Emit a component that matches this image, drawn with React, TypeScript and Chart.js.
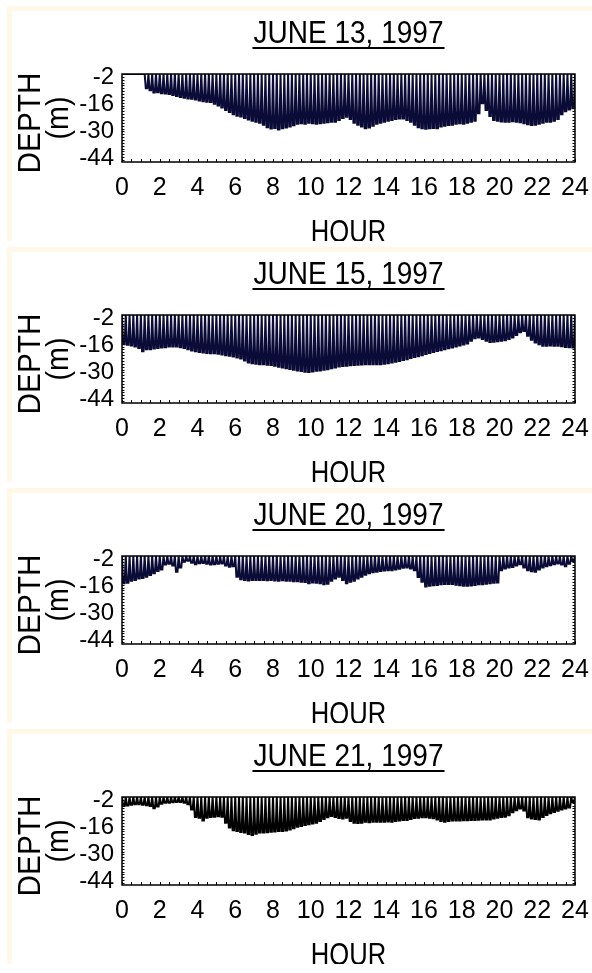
import React, { useEffect, useRef } from 'react';
import { Chart, registerables } from 'chart.js';

Chart.register(...registerables);

// ---------- data ----------
const HOUR_TICKS = [0, 2, 4, 6, 8, 10, 12, 14, 16, 18, 20, 22, 24];
const DEPTH_TICKS = [-2, -16, -30, -44];
const DIVE_STEP = 0.2; // hours per dive slot (dive centres at 0.1, 0.3, ... 23.9)

const PANEL_TITLES = ['JUNE 13, 1997', 'JUNE 15, 1997', 'JUNE 20, 1997', 'JUNE 21, 1997'];

// max depth (m) of each dive slot; 0 = animal at surface (no dive)
const JUNE13 = [
  0, 0, 0, 0, 0, 0, -7.5, -8.5, -9.7, -9.5,
  -10, -10.2, -10.5, -11, -11.5, -12, -12.4, -12.8, -13, -13.3,
  -13.8, -14.2, -14.5, -14.6, -15.5, -16.5, -17.5, -18.8, -19.8, -21,
  -21.8, -22.2, -23, -23.8, -24.5, -25, -25.5, -26.5, -27.8, -28.5,
  -28.2, -29, -28.4, -28, -27.5, -26.8, -26, -25.8, -26, -25.5,
  -25.8, -26, -25.8, -25.5, -25.2, -25, -24.9, -24, -23, -22.3,
  -23.5, -25.5, -26.5, -27.5, -28.4, -28, -27, -26, -25.5, -25,
  -24.5, -24, -23.5, -23.2, -23.2, -24, -25, -26.5, -27.8, -28.4,
  -28.6, -28.4, -28.2, -28.4, -27.5, -27, -26.7, -26.5, -26, -25.8,
  -26, -25.5, -25, -24.5, -20.5, -15.3, -18.8, -22, -24, -24.5,
  -24.8, -24.9, -25, -24.7, -24.9, -25.2, -25.8, -26.3, -26.7, -26.5,
  -26, -25.5, -25, -25, -24.5, -23.5, -21, -19.5, -18.5, -17.9,
];

const JUNE15 = [
  -15.3, -15.5, -16, -16.5, -17.2, -19, -17.9, -17.9, -17.5, -17.2,
  -17, -16.8, -16.5, -16.5, -16.5, -16.8, -17.2, -17.9, -18.5, -19,
  -19.3, -19.6, -19.8, -20, -20, -20.3, -20.6, -21, -21.3, -21.7,
  -22.2, -22.8, -23.8, -24.8, -25.2, -25.5, -25.7, -25.8, -26, -26.2,
  -26.5, -27, -27.4, -27.8, -28.2, -28.6, -29, -29.3, -29.7, -29.8,
  -29.5, -29.2, -29, -28.6, -28.3, -27.9, -27.4, -26.9, -26.7, -26.5,
  -26.3, -26.2, -26, -25.9, -25.8, -25.7, -25.7, -25.7, -25.7, -25.5,
  -25.2, -24.8, -24.4, -24, -23.5, -23.1, -22.5, -22, -21.5, -21,
  -20.4, -19.8, -19.3, -18.8, -18.4, -17.9, -17.4, -17, -16.5, -16,
  -15.4, -14.9, -13.5, -12.2, -11.8, -12.6, -13.5, -14.1, -14, -13.7,
  -13.5, -13.2, -12.5, -11.8, -10.5, -9, -8.3, -10.9, -13, -14.4,
  -15.3, -16.1, -16.1, -16, -16.1, -16.1, -16.4, -16.7, -16.9, -17,
];

const JUNE20 = [
  -14.3, -14, -13, -12.5, -11.8, -11.5, -10.8, -9.9, -9, -7.8,
  -7, -4.5, -4, -5, -8.2, -6, -3, -2.5, -3.5, -4.3,
  -3.8, -3.6, -4, -4.5, -4.3, -4, -3.9, -5, -5.6, -5.3,
  -10.8, -12.2, -12.5, -12.8, -12.5, -12.6, -12.5, -12.5, -12.7, -12.5,
  -12.8, -12.9, -12.7, -12.9, -13, -13.2, -13.2, -13.4, -13.6, -14.3,
  -13.8, -14, -14.2, -14.8, -14.5, -12.9, -11.7, -10.8, -12.5, -14.2,
  -13.5, -12.9, -11.8, -10.8, -9.8, -9, -8.5, -8.2, -7.8, -7.6,
  -7.5, -7.4, -7, -6.6, -6.2, -6, -6.5, -7.4, -11, -13.4,
  -16, -15.5, -15.3, -15.1, -14.8, -14.6, -14.6, -14.6, -15, -15.3,
  -15.6, -15.6, -15.4, -15.1, -14.8, -14.8, -14.5, -14.2, -14, -13.9,
  -7.4, -6.5, -6, -5.7, -5, -4.3, -6, -7.4, -8, -8.2,
  -7, -6, -5.3, -4.8, -4.3, -3.9, -4.5, -5.3, -4, -2.6,
];

const JUNE21 = [
  -4.7, -4.5, -4, -3.8, -3.8, -4, -4.3, -4.7, -5.9, -5,
  -3.5, -3, -3, -2.8, -2.6, -2.6, -3, -3.8, -6.5, -10.5,
  -10.8, -12.3, -10.8, -10.5, -10.3, -10, -10.3, -13.5, -16, -17.4,
  -17.8, -18.3, -18.6, -19.3, -19.9, -19.2, -18.6, -18.6, -18.4, -18.2,
  -18, -17.8, -17.8, -17.5, -17, -16.3, -15.6, -15.2, -14.6, -14.2,
  -13.8, -13.4, -12.5, -11.5, -10.6, -9.9, -10.5, -11, -11.2, -10.8,
  -12.5, -13.4, -13.6, -13.4, -13, -13.2, -13, -12.9, -13, -12.9,
  -12.8, -12.9, -12.6, -12.3, -12, -12, -11.5, -11, -10.8, -10.6,
  -10.6, -10.8, -11.1, -11.8, -12.5, -12.9, -12.6, -12.3, -12.3, -12.3,
  -12.2, -12.1, -12, -12, -11.9, -11.8, -11.7, -11.7, -11.2, -10.8,
  -10.5, -10.3, -9.5, -8, -6.9, -6, -7, -10.6, -11.2, -11.5,
  -11.7, -10.5, -9.4, -8.5, -7.8, -7.2, -6.5, -6, -5.5, -2.6,
];

const PANEL_DATA = [JUNE13, JUNE15, JUNE20, JUNE21];
const PANEL_COLORS = ['#0b0b38', '#0b0b38', '#0b0b38', '#000000'];

// ---------- layout ----------
const W = 592;
const PANEL_H = 241;
const FONT = '"Liberation Sans", Arial, Helvetica, sans-serif';

function diveTrace(depths: number[]) {
  const pts: { x: number; y: number }[] = [];
  depths.forEach((d, i) => {
    const t0 = i * DIVE_STEP;
    const t1 = t0 + DIVE_STEP;
    const c = t0 + DIVE_STEP / 2;
    if (d >= 0) {
      pts.push({ x: t0, y: 0 }, { x: t1, y: 0 });
      return;
    }
    pts.push({ x: t0, y: 0 }, { x: c - 0.04, y: d }, { x: c + 0.04, y: d }, { x: t1, y: 0 });
  });
  return pts;
}

const decorPlugin = {
  id: 'decor',
  afterDraw(chart: any, _args: any, opts: any) {
    const { ctx, chartArea } = chart;
    const { left, right, top, bottom } = chartArea;
    const xs = chart.scales.x;
    const ys = chart.scales.y;
    ctx.save();
    ctx.fillStyle = '#000';
    ctx.strokeStyle = '#000';
    // box
    ctx.lineWidth = 1.5;
    ctx.strokeRect(left, top, right - left, bottom - top);
    // minor ticks
    ctx.lineWidth = 1;
    ctx.beginPath();
    for (let h = 0; h <= 24; h += 0.5) {
      const px = Math.round(xs.getPixelForValue(h)) + 0.5;
      ctx.moveTo(px, bottom);
      ctx.lineTo(px, bottom - 3);
    }
    for (let v = 0; v >= -46; v -= 1.5) {
      const py = Math.round(ys.getPixelForValue(v)) + 0.5;
      ctx.moveTo(left, py);
      ctx.lineTo(left + 2.5, py);
      ctx.moveTo(right, py);
      ctx.lineTo(right - 2.5, py);
    }
    ctx.stroke();

    const cx = (left + right) / 2;
    // title (condensed) + underline
    ctx.font = `32px ${FONT}`;
    ctx.textAlign = 'center';
    ctx.textBaseline = 'alphabetic';
    const tsx = 0.876;
    ctx.save();
    ctx.translate(cx, top - 31);
    ctx.scale(tsx, 1);
    ctx.fillText(opts.title, 0, 0);
    ctx.restore();
    const tw = ctx.measureText(opts.title).width * tsx;
    ctx.fillRect(cx - tw / 2 - 1, top - 27, tw + 2, 2);

    // x axis title
    ctx.save();
    ctx.translate(cx, bottom + 80);
    ctx.scale(0.8, 1);
    ctx.fillText('HOUR', 0, 0);
    ctx.restore();

    // y axis title, two lines
    const cy = (top + bottom) / 2;
    ctx.save();
    ctx.translate(40, cy + 5);
    ctx.rotate(-Math.PI / 2);
    ctx.scale(0.93, 1);
    ctx.fillText('DEPTH', 0, 0);
    ctx.restore();
    ctx.save();
    ctx.font = `31px ${FONT}`;
    ctx.translate(68, cy);
    ctx.rotate(-Math.PI / 2);
    ctx.scale(0.92, 1);
    ctx.fillText('(m)', 0, 0);
    ctx.restore();
    ctx.restore();
  },
};

function Panel({ index }: { index: number }) {
  const ref = useRef<HTMLCanvasElement>(null);
  useEffect(() => {
    if (!ref.current) return;
    const chart = new Chart(ref.current, {
      type: 'line',
      data: {
        datasets: [
          {
            data: diveTrace(PANEL_DATA[index]),
            borderColor: PANEL_COLORS[index],
            borderWidth: 2.0,
            pointRadius: 0,
            fill: false,
            tension: 0,
          },
        ],
      },
      options: {
        animation: false,
        responsive: false,
        devicePixelRatio: 1,
        events: [],
        layout: { padding: { top: 74, right: 17, left: 0, bottom: 0 } },
        plugins: {
          legend: { display: false },
          tooltip: { enabled: false },
          title: { display: false },
          decor: { title: PANEL_TITLES[index] },
        } as any,
        scales: {
          x: {
            type: 'linear',
            min: 0,
            max: 24,
            grid: { display: false, drawTicks: false },
            border: { display: false },
            afterBuildTicks: (s: any) => {
              s.ticks = HOUR_TICKS.map((v) => ({ value: v }));
            },
            afterFit: (s: any) => {
              s.height = PANEL_H - 162;
              s.paddingLeft = 0;
              s.paddingRight = 0;
            },
            ticks: {
              autoSkip: false,
              maxRotation: 0,
              padding: 11,
              color: '#000',
              font: { family: FONT, size: 25 },
            },
          },
          y: {
            type: 'linear',
            min: -46,
            max: 0,
            grid: { display: false, drawTicks: false },
            border: { display: false },
            afterBuildTicks: (s: any) => {
              s.ticks = DEPTH_TICKS.map((v) => ({ value: v }));
            },
            afterFit: (s: any) => {
              s.width = 122;
              s.paddingTop = 0;
              s.paddingBottom = 0;
            },
            ticks: {
              autoSkip: false,
              padding: 8,
              color: '#000',
              font: { family: FONT, size: 24 },
            },
          },
        },
      } as any,
      plugins: [decorPlugin],
    });
    return () => chart.destroy();
  }, [index]);
  return (
    <div style={{ position: 'absolute', left: 0, top: index * PANEL_H, width: W, height: PANEL_H }}>
      <div style={{ position: 'absolute', left: 7, top: 6, right: 0, height: 5, background: '#fff8e6' }} />
      <div style={{ position: 'absolute', left: 7, top: 6, width: 5, bottom: 0, background: '#fff8e6' }} />
      <canvas ref={ref} width={W} height={PANEL_H} style={{ position: 'absolute', left: 0, top: 0, display: 'block' }} />
    </div>
  );
}

export default function App() {
  return (
    <div style={{ position: 'absolute', left: 0, top: 0, width: W, height: 973, background: '#fff', overflow: 'hidden' }}>
      {[0, 1, 2, 3].map((i) => (
        <Panel key={i} index={i} />
      ))}
    </div>
  );
}
